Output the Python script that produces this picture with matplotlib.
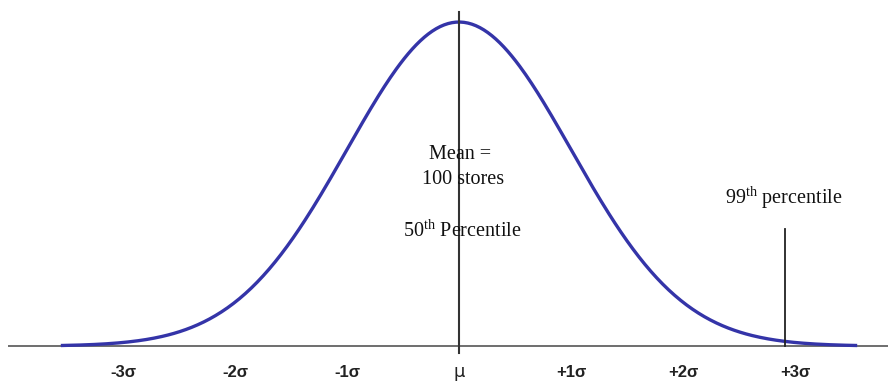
import numpy as np
import matplotlib.pyplot as plt

plt.rcParams['mathtext.fontset'] = 'custom'
plt.rcParams['mathtext.rm'] = 'Liberation Serif'

# normal curve, in units of sigma
mu = 0.0
sigma = 1.0
curve_span = 3.54          # curve drawn out to +/- this many sigma
p99_x = 2.91               # where the 99th percentile marker sits

tick_pos = [-3, -2, -1, 0, 1, 2, 3]
tick_labels = ['-3σ', '-2σ', '-1σ', 'μ', '+1σ', '+2σ', '+3σ']

mean_lines = ['Mean =', '100 stores']
p50_text = '50$^{\\mathrm{th}}$ Percentile'
p99_text = '99$^{\\mathrm{th}}$ percentile'


def bell(x):
    return np.exp(-0.5 * ((x - mu) / sigma) ** 2)


fig = plt.figure(figsize=(8.88, 3.84), dpi=100)
ax = fig.add_axes([0, 0, 1, 1])
ax.set_xlim(-4.098, 3.830)
ax.set_ylim(-0.117, 1.068)
ax.axis('off')

# baseline
ax.plot([-4.03, 3.83], [0, 0], color='#555555', lw=1.2, solid_capstyle='butt')

# bell curve
xs = np.linspace(mu - curve_span * sigma, mu + curve_span * sigma, 400)
ax.plot(xs, bell(xs), color='#3434a8', lw=2.4)

# mean line and 99th percentile line
ax.plot([mu, mu], [-0.022, 1.03], color='#333333', lw=1.5)
ax.plot([p99_x, p99_x], [0, 0.36], color='#222222', lw=1.3)

# sigma labels under the axis
for pos, lab in zip(tick_pos, tick_labels):
    if lab == 'μ':
        ax.text(mu + pos * sigma, -0.08, lab, ha='center', va='center',
                fontsize=13, family='DejaVu Sans', color='#222222')
    else:
        ax.text(mu + pos * sigma, -0.08, lab, ha='center', va='center',
                fontsize=12, fontweight='bold', family='Liberation Sans',
                color='#222222')

serif = dict(family='Liberation Serif', fontsize=14.5, color='#111111')
ax.text(mu + 0.01, 0.592, mean_lines[0], ha='center', va='center', **serif)
ax.text(mu + 0.04, 0.514, mean_lines[1], ha='center', va='center', **serif)
ax.text(mu + 0.03, 0.357, p50_text, ha='center', va='center', **serif)
ax.text(p99_x - 0.01, 0.458, p99_text, ha='center', va='center', **serif)

fig.savefig('out.png', dpi=100)
